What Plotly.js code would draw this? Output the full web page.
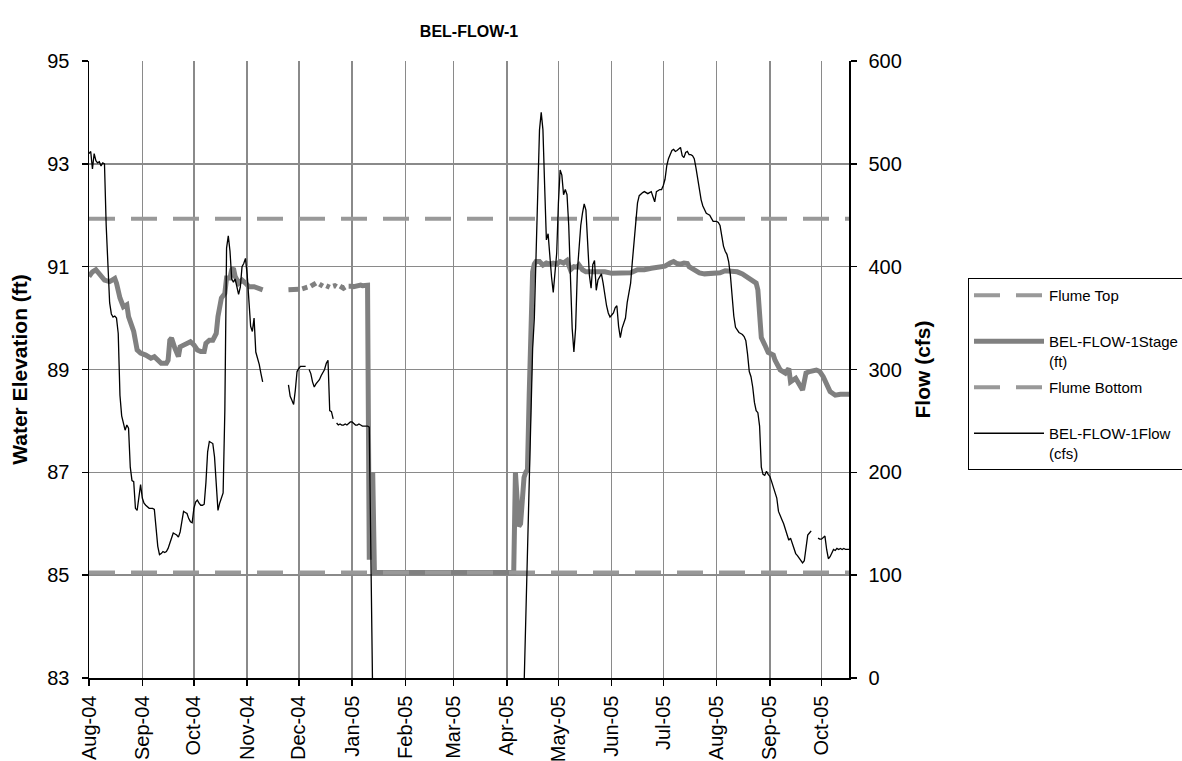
<!DOCTYPE html>
<html>
<head>
<meta charset="utf-8">
<script src="https://cdn.plot.ly/plotly-3.0.1.min.js"></script>
<style>
html,body{margin:0;padding:0;background:#fff;}
#chart{width:1182px;height:761px;}
</style>
</head>
<body>
<div id="chart"></div>
<script>
// ---------------- DATA ----------------
// Flow (cfs), daily readings in three continuous runs (null = missing day)
const flowRun1Start = '2004-08-01';
const flowRun1 = [
  510,512,495,510,503,501,502,498,501,500,440,400,365,354,351,352,350,335,275,255,248,241,246,243,205,192,191,165,163,178,188,
  175,170,168,166,165,165,165,164,147,128,120,121,123,122,123,126,131,137,141,140,139,137,142,152,162,161,160,155,152,151,
  165,171,173,170,168,168,169,190,220,230,229,228,215,185,163,170,176,180,260,418,430,415,388,385,388,380,373,380,400,403,408,
  392,365,342,337,350,317,312,305,296,288
];
const flowRun2Start = '2004-11-25';
const flowRun2 = [
  285,274,270,266,280,298,
  301,303,303,303,303,null,
  300,296,288,283,286,288,290,294,297,300,306,309,260,259,252,null,
  248,246,247,246,246,247,246,248,249,
  249,247,246,246,247,246,245,245,245,245,244,90,-20
];
const flowRun3Start = '2005-04-11';
const flowRun3 = [
  -10,55,120,190,255,320,350,405,460,533,550,533,478,426,432,408,390,375,395,413,
  462,494,489,470,475,470,440,380,340,317,340,395,420,440,452,461,455,428,392,379,402,406,377,387,390,393,384,372,362,355,351,
  353,355,360,362,342,331,340,345,350,365,375,384,405,425,448,462,469,471,472,473,472,471,472,473,468,463,473,474,475,475,
  479,485,498,505,510,513,514,512,513,515,516,508,506,511,512,509,509,508,505,496,485,473,465,459,455,452,451,450,447,444,444,
  444,443,440,430,420,415,412,405,392,372,352,341,338,336,335,334,332,328,315,298,293,283,268,260,258,245,205,198,197,201,198,
  196,191,186,180,175,162,157,154,150,145,138,134,136,131,126,121,119,117,115,112,114,128,139,141,143,null,null,null,136,135,
  135,137,138,125,116,118,122,125,124,126,125,126,125,126,125,125,125
];

// Stage (ft)
const stageDates = [
  '2004-08-01','2004-08-03','2004-08-05','2004-08-07','2004-08-10','2004-08-13','2004-08-16','2004-08-17','2004-08-19','2004-08-21',
  '2004-08-23','2004-08-24','2004-08-26','2004-08-27','2004-08-29','2004-08-31','2004-09-03','2004-09-06','2004-09-08','2004-09-10',
  '2004-09-12','2004-09-15','2004-09-16','2004-09-17','2004-09-18','2004-09-20','2004-09-22','2004-09-23','2004-09-25','2004-09-27',
  '2004-09-29','2004-10-01','2004-10-03','2004-10-05','2004-10-07','2004-10-08','2004-10-10','2004-10-12','2004-10-14','2004-10-15',
  '2004-10-16','2004-10-17','2004-10-19','2004-10-20','2004-10-22','2004-10-23','2004-10-24','2004-10-25','2004-10-27','2004-10-29',
  '2004-10-31','2004-11-02','2004-11-05','2004-11-08','2004-11-10','2004-11-11',
  '2004-11-25','2004-11-26','2004-11-27','2004-11-28','2004-11-29','2004-11-30','2004-12-01','2004-12-02','2004-12-03','2004-12-04',
  '2004-12-05','2004-12-06','2004-12-07','2004-12-08','2004-12-09','2004-12-10','2004-12-11','2004-12-12','2004-12-13','2004-12-14',
  '2004-12-15','2004-12-16','2004-12-17','2004-12-18','2004-12-19','2004-12-20','2004-12-21','2004-12-22','2004-12-23','2004-12-24',
  '2004-12-25','2004-12-26','2004-12-27','2004-12-28','2004-12-29','2004-12-30','2004-12-31','2005-01-01','2005-01-02','2005-01-03',
  '2005-01-04','2005-01-05','2005-01-06','2005-01-07','2005-01-08','2005-01-09','2005-01-10','2005-01-11','2005-01-13','2005-01-14',
  '2005-04-05','2005-04-06','2005-04-07','2005-04-08','2005-04-09','2005-04-10','2005-04-11','2005-04-12','2005-04-13','2005-04-14',
  '2005-04-15','2005-04-16','2005-04-17','2005-04-18','2005-04-20','2005-04-22','2005-04-24','2005-04-26','2005-04-28','2005-04-30',
  '2005-05-02','2005-05-04','2005-05-06','2005-05-07','2005-05-08','2005-05-10','2005-05-12','2005-05-13','2005-05-15','2005-05-17',
  '2005-05-21','2005-05-23','2005-05-25','2005-05-28','2005-06-01','2005-06-05','2005-06-09','2005-06-12','2005-06-16','2005-06-20',
  '2005-06-24','2005-06-28','2005-06-30','2005-07-02','2005-07-05','2005-07-07','2005-07-09','2005-07-11','2005-07-13','2005-07-15',
  '2005-07-16','2005-07-19','2005-07-22','2005-07-25','2005-07-28','2005-07-31','2005-08-03','2005-08-06','2005-08-10','2005-08-13',
  '2005-08-16','2005-08-18','2005-08-21','2005-08-24','2005-08-25','2005-08-26','2005-08-27','2005-08-29','2005-08-31','2005-09-03',
  '2005-09-04','2005-09-07','2005-09-10','2005-09-12','2005-09-13','2005-09-16','2005-09-18','2005-09-20','2005-09-22','2005-09-24',
  '2005-09-28','2005-09-30','2005-10-02','2005-10-04','2005-10-06','2005-10-09','2005-10-12','2005-10-17'
];
const stageValues = [
  90.81,90.90,90.94,90.87,90.74,90.71,90.77,90.68,90.39,90.22,
  90.26,90.03,89.80,89.74,89.38,89.32,89.28,89.22,89.25,89.18,
  89.12,89.12,89.18,89.57,89.61,89.41,89.25,89.44,89.48,89.51,
  89.54,89.48,89.38,89.35,89.35,89.51,89.57,89.57,89.70,90.03,
  90.29,90.39,90.48,90.78,90.78,90.94,90.97,90.81,90.68,90.74,
  90.68,90.61,90.61,90.58,90.55,null,
  90.55,90.55,90.54,90.55,90.56,90.55,90.56,null,90.57,90.58,
  90.58,90.60,null,90.62,90.64,90.66,90.68,null,90.66,90.64,
  90.62,null,90.63,90.62,90.60,null,90.62,90.63,90.61,null,
  90.62,90.60,90.58,90.60,null,90.62,90.63,90.62,90.61,90.62,
  90.63,90.64,90.64,90.63,90.64,90.64,90.64,85.30,87.00,85.05,
  85.05,87.00,86.40,85.95,86.00,86.66,86.90,87.00,87.05,88.50,
  89.90,90.90,91.05,91.10,91.10,91.03,91.07,91.05,91.07,91.05,
  91.10,91.07,91.12,91.02,90.94,91.00,90.99,91.03,90.94,90.90,
  90.90,90.92,90.90,90.90,90.87,90.87,90.87,90.88,90.94,90.94,
  90.97,90.98,91.00,91.01,91.07,91.10,91.06,91.05,91.07,91.06,
  91.00,90.94,90.88,90.86,90.86,90.86,90.88,90.92,90.92,90.90,
  90.86,90.81,90.74,90.68,90.55,90.03,89.62,89.48,89.33,89.28,
  89.18,88.99,88.93,89.02,88.76,88.83,88.73,88.60,88.93,88.96,
  88.99,88.96,88.86,88.70,88.57,88.50,88.52,88.52
];

// Flume reference levels (ft)
const flumeDates = ['2004-08-01','2005-10-17'];
const flumeTop = [91.93, 91.93];
const flumeBottom = [85.05, 85.05];

// Axis tick labelling
const monthTickFormat = '%b-%y';

// ---------------- BUILD ----------------
function addDays(startStr, n){
  const d = new Date(startStr + 'T00:00:00Z');
  d.setUTCDate(d.getUTCDate() + n);
  return d.toISOString().slice(0,10);
}
const flowX = [], flowY = [];
[[flowRun1Start, flowRun1],[flowRun2Start, flowRun2],[flowRun3Start, flowRun3]].forEach(function(run){
  run[1].forEach(function(v,i){ flowX.push(addDays(run[0], i)); flowY.push(v); });
  flowX.push(addDays(run[0], run[1].length)); flowY.push(null);
});

const FONT = 'Arial, "Liberation Sans", Helvetica, sans-serif';
const dashStyle = '26px,16px';

const traces = [
  {x: flumeDates, y: flumeTop, name: 'Flume Top<br>\u00a0', type:'scatter', mode:'lines',
   line:{color:'#999999', width:4, dash:dashStyle}, legendgroup:'g1', hoverinfo:'skip'},
  {x: stageDates, y: stageValues, name: 'BEL-FLOW-1Stage<br>(ft)', type:'scatter', mode:'lines',
   line:{color:'#808080', width:5}, connectgaps:false, legendgroup:'g2'},
  {x: flumeDates, y: flumeBottom, name: 'Flume Bottom<br>\u00a0', type:'scatter', mode:'lines',
   line:{color:'#999999', width:4, dash:dashStyle}, legendgroup:'g3', hoverinfo:'skip'},
  {x: flowX, y: flowY, name: 'BEL-FLOW-1Flow<br>(cfs)', type:'scatter', mode:'lines', yaxis:'y2',
   line:{color:'#000000', width:1.3}, connectgaps:false, legendgroup:'g4'}
];

const layout = {
  width: 1182, height: 761,
  margin: {l: 89, r: 333, t: 61, b: 83, pad: 0},
  paper_bgcolor: '#ffffff', plot_bgcolor: '#ffffff',
  font: {family: FONT, size: 20, color: '#000000'},
  title: {text: '<b>BEL-FLOW-1</b>', font: {family: FONT, size: 16, color:'#000'},
          xref: 'paper', x: 0.5, xanchor: 'center', yref: 'container', y: 1 - 31/761, yanchor: 'middle'},
  xaxis: {
    type: 'date', range: ['2004-08-01', '2005-10-17'],
    tick0: '2004-08-01', dtick: 'M1', tickformat: monthTickFormat, tickangle: -90,
    ticks: 'outside', ticklen: 6, tickwidth: 1.5, tickcolor: '#000',
    ticklabelstandoff: 2,
    showline: true, linecolor: '#000', linewidth: 1.5,
    showgrid: true, gridcolor: '#8a8a8a', gridwidth: 1.5, zeroline: false,
    tickfont: {size: 20}
  },
  yaxis: {
    range: [83, 95], tick0: 83, dtick: 2,
    ticks: 'outside', ticklen: 6, tickwidth: 1.5, tickcolor: '#000',
    ticklabelstandoff: 8,
    showline: true, linecolor: '#000', linewidth: 1.5,
    showgrid: true, gridcolor: '#8a8a8a', gridwidth: 1.5, zeroline: false,
    tickfont: {size: 20},
    title: {text: '<b>Water Elevation (ft)</b>', font: {size: 21}, standoff: 14}
  },
  yaxis2: {
    overlaying: 'y', side: 'right', range: [0, 600], tick0: 0, dtick: 100,
    ticks: 'outside', ticklen: 6, tickwidth: 1.5, tickcolor: '#000',
    ticklabelstandoff: 8,
    showline: true, linecolor: '#000', linewidth: 1.5,
    showgrid: false, zeroline: false,
    tickfont: {size: 20},
    title: {text: '<b>Flow (cfs)</b>', font: {size: 21}, standoff: 14}
  },
  showlegend: true,
  legend: {
    xref: 'container', yref: 'container',
    x: 968/1182, y: 1 - 278/761, xanchor: 'left', yanchor: 'top',
    bordercolor: '#000', borderwidth: 1, bgcolor: '#fff',
    font: {family: FONT, size: 15, color: '#000'},
    valign: 'top', tracegroupgap: 4, itemwidth: 70, traceorder: 'grouped'
  }
};

Plotly.newPlot('chart', traces, layout, {displayModeBar: false, staticPlot: true});
</script>
</body>
</html>
